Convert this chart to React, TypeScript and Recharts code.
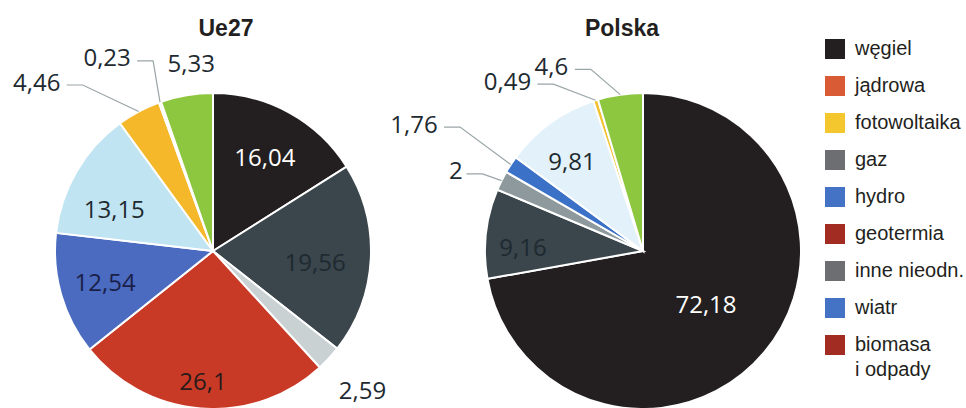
import React from 'react';
import { PieChart, Pie, Cell } from 'recharts';

// Ue27 shares (clockwise from 12 o'clock)
const ueValues = [16.04, 19.56, 2.59, 26.1, 12.54, 13.15, 4.46, 0.23, 5.33];
const ueLabels = ['16,04', '19,56', '2,59', '26,1', '12,54', '13,15', '4,46', '0,23', '5,33'];
const ueColors = ['#231F20', '#3A454C', '#C9D1D3', '#C93A26', '#4A6BC0', '#C1E4F2', '#F4B82A', '#EFEFDF', '#8DC63F'];

// Polska shares
const plValues = [72.18, 9.16, 2, 1.76, 9.81, 0.49, 4.6];
const plLabels = ['72,18', '9,16', '2', '1,76', '9,81', '0,49', '4,6'];
const plColors = ['#231F20', '#3A454C', '#8D999C', '#3B72C8', '#E3F2FA', '#F2C12E', '#8DC63F'];

const legendNames = ['węgiel', 'jądrowa', 'fotowoltaika', 'gaz', 'hydro', 'geotermia', 'inne nieodn.', 'wiatr', 'biomasa\ni odpady'];
const legendColors = ['#231F20', '#D95B35', '#F4C72E', '#6D6E71', '#4472C4', '#A22B22', '#6D6E71', '#4472C4', '#A22B22'];

// label layout: radius factor, clockwise angle shift (deg), leader line, text colour
type LabelStyle = { r: number; shift: number; line: boolean; color: string };
const ueLabelStyle: LabelStyle[] = [
  { r: 0.68, shift: 0, line: false, color: '#FFFFFF' },
  { r: 0.65, shift: 3, line: false, color: '#1E2A30' },
  { r: 1.29, shift: 0, line: false, color: '#1E2A30' },
  { r: 0.82, shift: 0, line: false, color: '#2A1A1A' },
  { r: 0.71, shift: 0, line: false, color: '#1A1F4A' },
  { r: 0.68, shift: -7, line: false, color: '#1E2A30' },
  { r: 1.55, shift: -18, line: true, color: '#1E2A30' },
  { r: 1.4, shift: -9, line: true, color: '#1E2A30' },
  { r: 1.2, shift: 3, line: false, color: '#1E2A30' },
];
const plLabelStyle: LabelStyle[] = [
  { r: 0.52, shift: 0, line: false, color: '#FFFFFF' },
  { r: 0.76, shift: -4, line: false, color: '#1E2A30' },
  { r: 1.29, shift: -3, line: true, color: '#1E2A30' },
  { r: 1.66, shift: -4, line: true, color: '#1E2A30' },
  { r: 0.73, shift: -2, line: false, color: '#1E2A30' },
  { r: 1.38, shift: -21, line: true, color: '#1E2A30' },
  { r: 1.31, shift: -18, line: true, color: '#1E2A30' },
];

const RAD = Math.PI / 180;
const LABEL_FONT = "'Open Sans', 'DejaVu Sans', sans-serif";

const makeLabel = (texts: string[], styles: LabelStyle[]) => (props: any) => {
  const { cx, cy, midAngle, outerRadius, index } = props;
  const st = styles[index];
  const a = midAngle - st.shift;
  const lx = cx + Math.cos(-a * RAD) * outerRadius * st.r;
  const ly = cy + Math.sin(-a * RAD) * outerRadius * st.r;
  const text = texts[index];
  let line = null;
  if (st.line) {
    const sx = cx + Math.cos(-midAngle * RAD) * outerRadius;
    const sy = cy + Math.sin(-midAngle * RAD) * outerRadius;
    const half = text.length * 6.5;
    const ex = lx + half + 4;
    const ey = ly + 4;
    const kx = ex + 16;
    line = (
      <polyline
        points={`${ex},${ey} ${kx},${ey} ${sx},${sy}`}
        fill="none"
        stroke="#9AA5A8"
        strokeWidth={1.2}
      />
    );
  }
  return (
    <g key={`lbl-${index}`}>
      {line}
      <text
        x={lx}
        y={ly}
        fill={st.color}
        textAnchor="middle"
        dominantBaseline="central"
        fontFamily={LABEL_FONT}
        fontSize={24}
      >
        {text}
      </text>
    </g>
  );
};

const ueData = ueValues.map((v, i) => ({ name: ueLabels[i], value: v }));
const plData = plValues.map((v, i) => ({ name: plLabels[i], value: v }));

const App: React.FC = () => {
  return (
    <div style={{ position: 'absolute', left: 0, top: 0, width: 966, height: 408, background: '#fff' }}>
      <PieChart width={966} height={408} margin={{ top: 0, right: 0, bottom: 0, left: 0 }}>
        <Pie
          data={ueData}
          dataKey="value"
          cx={213}
          cy={251}
          outerRadius={158}
          startAngle={90}
          endAngle={-270}
          stroke="#FFFFFF"
          strokeWidth={2}
          label={makeLabel(ueLabels, ueLabelStyle)}
          labelLine={false}
          isAnimationActive={false}
        >
          {ueData.map((d, i) => (
            <Cell key={d.name} fill={ueColors[i]} />
          ))}
        </Pie>
        <Pie
          data={plData}
          dataKey="value"
          cx={643}
          cy={251}
          outerRadius={158}
          startAngle={90}
          endAngle={-270}
          stroke="#FFFFFF"
          strokeWidth={2}
          label={makeLabel(plLabels, plLabelStyle)}
          labelLine={false}
          isAnimationActive={false}
        >
          {plData.map((d, i) => (
            <Cell key={d.name} fill={plColors[i]} />
          ))}
        </Pie>
      </PieChart>

      {/* titles */}
      <div style={{ position: 'absolute', left: 126, width: 200, top: 14, textAlign: 'center', fontFamily: "'Liberation Sans', Arial, sans-serif", fontWeight: 'bold', fontSize: 23, color: '#231F20', lineHeight: '28px' }}>
        Ue27
      </div>
      <div style={{ position: 'absolute', left: 522, width: 200, top: 14, textAlign: 'center', fontFamily: "'Liberation Sans', Arial, sans-serif", fontWeight: 'bold', fontSize: 23, color: '#231F20', lineHeight: '28px' }}>
        Polska
      </div>

      {/* legend */}
      <div style={{ position: 'absolute', left: 825, top: 36, fontFamily: "'Liberation Sans', Arial, sans-serif", fontSize: 20, color: '#231F20' }}>
        {legendNames.map((name, i) => (
          <div key={name} style={{ display: 'flex', alignItems: 'flex-start', height: 37 }}>
            <div style={{ width: 20, height: 20, background: legendColors[i], marginTop: 3, marginRight: 10, flexShrink: 0 }} />
            <div style={{ whiteSpace: 'pre', lineHeight: '25px' }}>{name}</div>
          </div>
        ))}
      </div>
    </div>
  );
};

export default App;
